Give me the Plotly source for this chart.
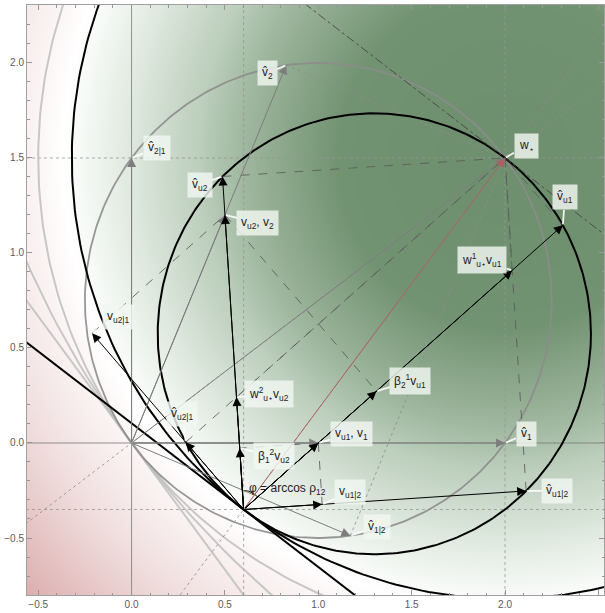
import numpy as np
import plotly.graph_objects as go

# ---- base values ----
W_STAR = np.array([2.0, 1.5])      # optimum w*
P0 = np.array([0.6, -0.35])        # origin of the "u" frame
V1 = np.array([1.0, 0.0])          # v1 (= tip of v_u1)
V2 = np.array([0.5, 1.2])          # v2 (= tip of v_u2)
X_RANGE = [-0.56, 2.53]
Y_RANGE = [-0.80, 2.305]
X_TICKS = [-0.5, 0.0, 0.5, 1.0, 1.5, 2.0, 2.5]
Y_TICKS = [-0.5, 0.0, 0.5, 1.0, 1.5, 2.0]
GRID_X = [0.6, 2.0]
GRID_Y = [-0.35, 1.5]

# ---- derived geometry ----
def proj(t, d):
    return d * (t @ d) / (d @ d)

def perp(d):
    return np.array([-d[1], d[0]])

O = np.array([0.0, 0.0])
H1 = proj(W_STAR, V1)
H2 = proj(W_STAR, V2)
H21 = proj(W_STAR, perp(V1))
H12 = proj(W_STAR, perp(V2))

VU1 = V1 - P0
VU2 = V2 - P0
D = W_STAR - P0
VU12 = VU1 - proj(VU1, VU2)
VU21 = VU2 - proj(VU2, VU1)
B12 = (VU1 @ VU2) / (VU2 @ VU2)
B21 = (VU1 @ VU2) / (VU1 @ VU1)
A, B = np.linalg.solve(np.column_stack([VU1, VU2]), D)

HU1 = P0 + proj(D, VU1)
HU2 = P0 + proj(D, VU2)
HU12 = P0 + proj(D, VU12)
HU21 = P0 + proj(D, VU21)
WU1 = P0 + A * VU1
WU2 = P0 + B * VU2
BU1 = P0 + B21 * VU1
BU2 = P0 + B12 * VU2
TU12 = P0 + VU12
TU21 = P0 + VU21

fig = go.Figure()

# background density (squared distance to w*)
xs = np.linspace(-0.62, 2.6, 260)
ys = np.linspace(-0.85, 2.36, 260)
XX, YY = np.meshgrid(xs, ys)
Z = (XX - W_STAR[0]) ** 2 + (YY - W_STAR[1]) ** 2
zmax = 12.0
cs_pts = [(0, (110, 144, 110)), (0.8, (114, 147, 114)), (1.3, (136, 164, 136)),
          (2.0, (160, 184, 160)), (2.7, (188, 206, 188)), (4.0, (222, 232, 222)),
          (5.0, (243, 247, 243)), (5.6, (255, 255, 255)), (6.5, (250, 242, 242)),
          (8.0, (242, 226, 226)), (12.0, (220, 172, 172))]
colorscale = [[v / zmax, 'rgb(%d,%d,%d)' % c] for v, c in cs_pts]
fig.add_trace(go.Heatmap(x=xs, y=ys, z=Z, zmin=0, zmax=zmax, colorscale=colorscale,
                         showscale=False, zsmooth='best', hoverinfo='skip'))

def circle_pts(c, r, n=400):
    t = np.linspace(0, 2 * np.pi, n)
    return c[0] + r * np.cos(t), c[1] + r * np.sin(t)

def line_pts(p, d, L=10):
    d = d / np.linalg.norm(d)
    return [p[0] - L * d[0], p[0] + L * d[0]], [p[1] - L * d[1], p[1] + L * d[1]]

def add_line(x, y, color, width, dash='solid'):
    fig.add_trace(go.Scatter(x=x, y=y, mode='lines', line=dict(color=color, width=width, dash=dash),
                             hoverinfo='skip', showlegend=False))

def segs(pairs):
    x, y = [], []
    for a, b in pairs:
        x += [a[0], b[0], None]
        y += [a[1], b[1], None]
    return x, y

# grid lines (dotted) and axes
gcol = 'rgba(150,150,150,0.8)'
for gx in GRID_X:
    add_line([gx, gx], [-5, 5], gcol, 1, 'dot')
for gy in GRID_Y:
    add_line([-5, 5], [gy, gy], gcol, 1, 'dot')
add_line([0, 0], [-5, 5], 'rgba(120,120,120,0.8)', 1)
add_line([-5, 5], [0, 0], 'rgba(120,120,120,0.8)', 1)

# light gray level curves through the origin
lg = 'rgba(190,190,190,0.85)'
x, y = circle_pts(2 * W_STAR, 2 * np.linalg.norm(W_STAR)); add_line(x, y, lg, 2)
x, y = circle_pts(W_STAR, np.linalg.norm(W_STAR)); add_line(x, y, lg, 2)
x, y = line_pts(O, perp(W_STAR)); add_line(x, y, lg, 2)
x, y = circle_pts(W_STAR / 2, np.linalg.norm(W_STAR) / 2); add_line(x, y, 'rgba(140,140,140,0.9)', 1.8)

# dotted extension lines
x, y = line_pts(O, W_STAR); add_line(x, y, 'rgba(140,140,140,0.8)', 1, 'dot')
x, y = line_pts(P0, D); add_line(x, y, 'rgba(140,140,140,0.8)', 1, 'dot')
x, y = segs([(H12, W_STAR), (H2, W_STAR)]); add_line(x, y, 'rgba(140,140,140,0.8)', 1, 'dot')

# black level curves through P0
x, y = circle_pts(W_STAR, np.linalg.norm(D)); add_line(x, y, 'black', 2)
x, y = circle_pts((P0 + W_STAR) / 2, np.linalg.norm(D) / 2); add_line(x, y, 'black', 2)
x, y = line_pts(P0, perp(D)); add_line(x, y, 'black', 2)

# tangent (dash-dot) at w*
x, y = line_pts(W_STAR, perp(D)); add_line(x, y, 'rgba(70,70,70,0.9)', 1, 'dashdot')

# dashed construction lines
x, y = segs([(HU2, W_STAR), (WU1, W_STAR), (WU2, W_STAR), (HU12, W_STAR), (HU21, W_STAR),
             (HU1, W_STAR), (TU21, V2), (V2, BU1), (V1, TU12), (V1, BU2)])
add_line(x, y, 'rgba(90,90,90,0.85)', 1, 'dash')

# angle arc at P0
ang1 = np.arctan2(VU1[1], VU1[0]); ang2 = np.arctan2(VU2[1], VU2[0])
t = np.linspace(ang1, ang2, 40)
add_line(P0[0] + 0.1 * np.cos(t), P0[1] + 0.1 * np.sin(t), 'black', 1)

ann = []

def arrow(tail, tip, color, width=1.0, size=1.8):
    ann.append(dict(x=tip[0], y=tip[1], ax=tail[0], ay=tail[1], xref='x', yref='y',
                    axref='x', ayref='y', showarrow=True, arrowhead=2, arrowsize=size,
                    arrowwidth=width, arrowcolor=color, text='', standoff=0))

gray = 'rgb(125,125,125)'
for tip in [H1, V1, H2, V2, H21, H12, W_STAR]:
    arrow(O, tip, gray)
arrow(P0, W_STAR, 'rgb(175,95,95)')
for tip in [HU1, WU1, BU1, V1, HU2, V2, WU2, BU2, HU12, TU12, TU21, HU21]:
    arrow(P0, tip, 'black')

FONT = 'Liberation Sans, Arial, sans-serif'

def label(pt, text, dx, dy):
    ann.append(dict(x=pt[0], y=pt[1], xref='x', yref='y', text=text, showarrow=True,
                    arrowhead=0, arrowwidth=1.8, arrowcolor='rgba(255,255,255,0.9)',
                    ax=dx, ay=dy, standoff=1, bgcolor='rgba(242,246,242,0.82)', borderpad=4,
                    font=dict(size=12, color='#222', family=FONT)))

hat = 'v\u0302'
label(H2, hat + '<sub>2</sub>', -19, 8)
label(H21, hat + '<sub>2|1</sub>', 25, -10)
label(HU2, hat + '<sub>u2</sub>', -23, 8)
label(V2, 'v<sub>u2</sub>, v<sub>2</sub>', 33, 8)
label(W_STAR, 'w<sub>\u22c6</sub>', 21, -12)
label(HU1, hat + '<sub>u1</sub>', 2, -28)
label(WU1, 'w<sup>1</sup><sub>u\u22c6</sub>v<sub>u1</sub>', -30, -10)
label(TU21, 'v<sub>u2|1</sub>', 26, -16)
label(WU2, 'w<sup>2</sup><sub>u\u22c6</sub>v<sub>u2</sub>', 33, -3)
label(HU21, hat + '<sub>u2|1</sub>', -4, -28)
label(V1, 'v<sub>u1</sub>, v<sub>1</sub>', 33, -9)
label(H1, hat + '<sub>1</sub>', 21, -9)
label(BU1, '\u03b2<sub>2</sub><sup>1</sup>v<sub>u1</sub>', 34, -10)
label(BU2, '\u03b2<sub>1</sub><sup>2</sup>v<sub>u2</sub>', 34, 8)
label(TU12, 'v<sub>u1|2</sub>', 28, -12)
label(HU12, hat + '<sub>u1|2</sub>', 31, 0)
label(H12, hat + '<sub>1|2</sub>', 27, -9)
ann.append(dict(x=P0[0], y=P0[1], xref='x', yref='y', xshift=44, yshift=20, showarrow=False,
                text='\u03c6 = arccos \u03c1<sub>12</sub>',
                font=dict(size=12, color='#222', family=FONT)))

axis_common = dict(showgrid=False, zeroline=False, showline=True, linecolor='rgb(160,160,160)',
                   linewidth=1, mirror='ticks', ticks='inside', ticklen=5, tickwidth=1,
                   tickcolor='rgb(150,150,150)', tickformat='.1f', automargin=False,
                   tickfont=dict(size=10, color='rgb(90,90,90)', family=FONT),
                   minor=dict(ticks='inside', ticklen=2.5, dtick=0.1, tickcolor='rgb(150,150,150)'))
fig.update_layout(
    width=605, height=613, margin=dict(l=27, r=1, t=5, b=18, autoexpand=False),
    paper_bgcolor='white', plot_bgcolor='white', showlegend=False,
    xaxis=dict(range=X_RANGE, tickvals=X_TICKS, **axis_common),
    yaxis=dict(range=Y_RANGE, tickvals=Y_TICKS, **axis_common),
    annotations=ann,
)
fig.write_html('out.html', config={'displayModeBar': False},
               post_script="document.body.style.margin='0';document.body.style.padding='0';")
